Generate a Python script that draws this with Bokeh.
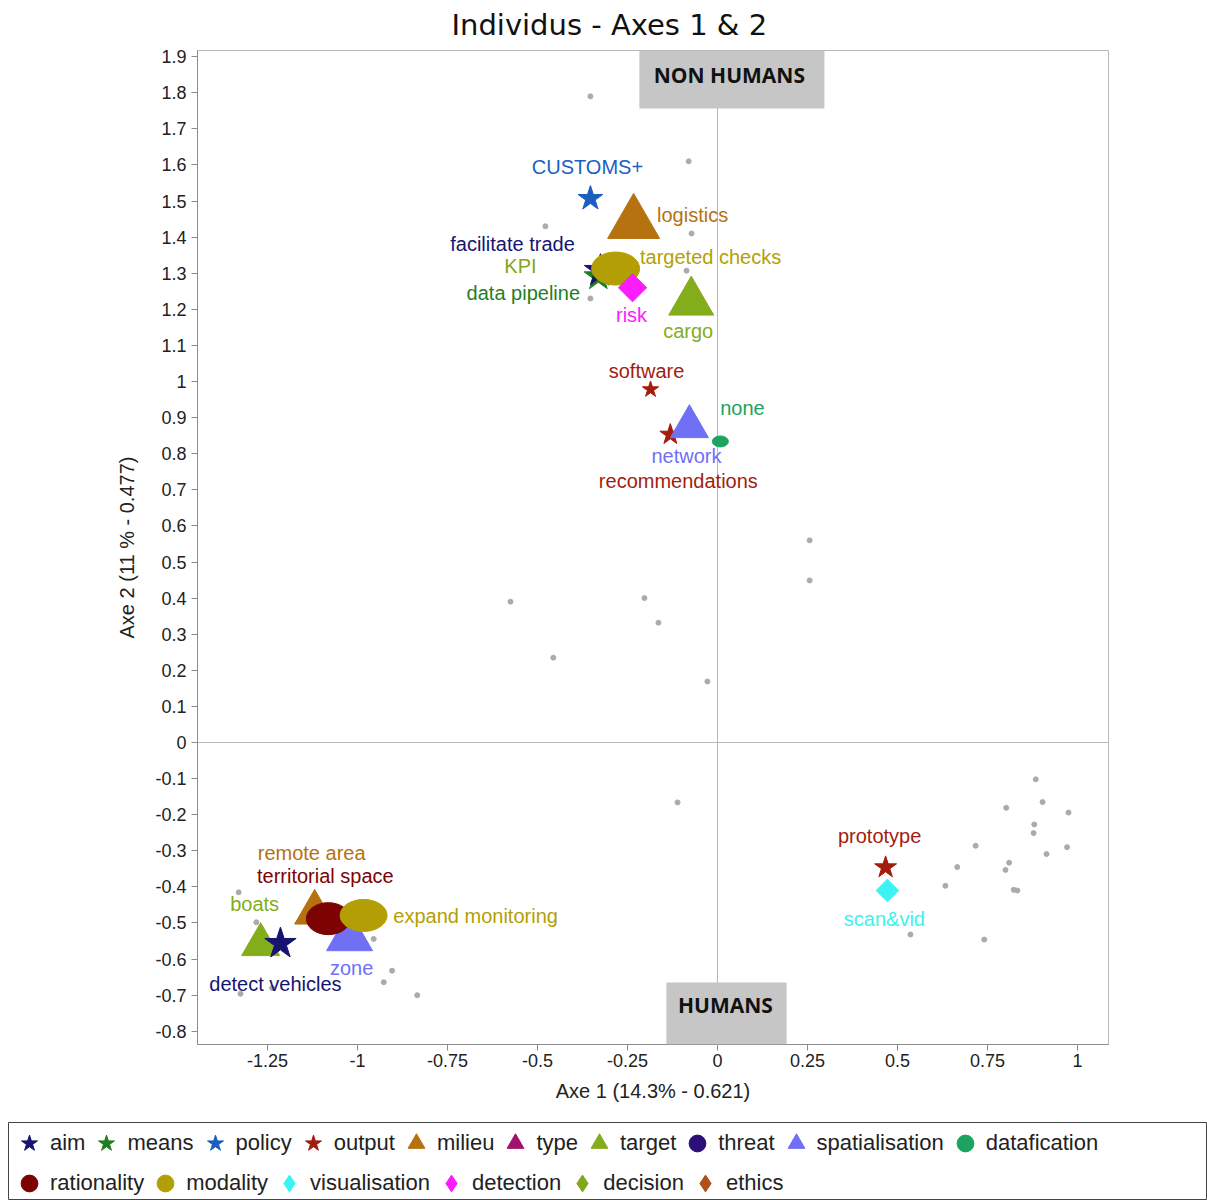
import numpy as np
from bokeh.plotting import figure
from bokeh.models import (ColumnDataSource, Range1d, FixedTicker, Span, BoxAnnotation,
                          Label, Legend, LegendItem)
from bokeh.core.properties import value
from bokeh.embed import file_html
from bokeh.resources import INLINE

# ---------------- data ----------------
categories = ["aim", "means", "policy", "output", "milieu", "type", "target", "threat",
              "spatialisation", "datafication", "rationality", "modality",
              "visualisation", "detection", "decision", "ethics"]
category_colors = ["#161470", "#1f7f1f", "#1a5fc0", "#a31d0d", "#b5720f", "#a1126f",
                   "#84ad1c", "#2c0f77", "#7070f4", "#1ba35f", "#7d0202", "#b39f05",
                   "#3cf2f2", "#fc1cfc", "#80a81e", "#b24f16"]
category_shapes = ["star", "star", "star", "star", "triangle", "triangle", "triangle",
                   "ellipse", "triangle", "ellipse", "ellipse", "ellipse",
                   "diamond", "diamond", "diamond", "diamond"]

# individuals (grey dots)
ind_x = [-0.353, -0.080, -0.478, -0.072, -0.086, -0.353, 0.256, 0.256, -0.575, -0.203,
         -0.164, -0.456, -0.028, -0.111,
         0.884, 0.903, 0.802, 0.975, 0.880, 0.878, 0.717, 0.971, 0.914, 0.810, 0.800,
         0.666, 0.633, 0.833, 0.823, 0.536, 0.741,
         -1.330, -1.281, -0.955, -0.904, -0.927, -0.834, -1.325, -1.237]
ind_y = [1.790, 1.610, 1.430, 1.410, 1.307, 1.230, 0.560, 0.449, 0.390, 0.400,
         0.332, 0.235, 0.169, -0.166,
         -0.102, -0.165, -0.181, -0.194, -0.227, -0.251, -0.286, -0.290, -0.309, -0.333,
         -0.353, -0.345, -0.397, -0.410, -0.408, -0.532, -0.546,
         -0.415, -0.498, -0.544, -0.632, -0.664, -0.700, -0.696, -0.680]

# variables (modalities), in drawing order
var_labels = ["data pipeline", "facilitate trade", "KPI", "targeted checks", "risk",
              "CUSTOMS+", "logistics", "cargo",
              "recommendations", "network", "software", "none",
              "remote area", "zone", "territorial space", "expand monitoring",
              "boats", "detect vehicles", "prototype", "scan&vid"]
var_category = ["means", "aim", "decision", "modality", "detection",
                "policy", "milieu", "target",
                "output", "spatialisation", "output", "datafication",
                "milieu", "spatialisation", "rationality", "modality",
                "target", "aim", "output", "visualisation"]
var_x = [-0.331, -0.325, -0.303, -0.283, -0.236, -0.353, -0.233, -0.073,
         -0.131, -0.078, -0.186, 0.008,
         -1.119, -1.022, -1.081, -0.983, -1.269, -1.214, 0.467, 0.472]
var_y = [1.291, 1.307, 1.302, 1.313, 1.260, 1.507, 1.438, 1.220,
         0.853, 0.875, 0.978, 0.834,
         -0.471, -0.540, -0.488, -0.479, -0.560, -0.557, -0.346, -0.410]

x_ticks = [-1.25, -1.0, -0.75, -0.5, -0.25, 0.0, 0.25, 0.5, 0.75, 1.0]
x_tick_labels = ["-1.25", "-1", "-0.75", "-0.5", "-0.25", "0", "0.25", "0.5", "0.75", "1"]
y_ticks = [-0.8, -0.7, -0.6, -0.5, -0.4, -0.3, -0.2, -0.1, 0.0, 0.1, 0.2, 0.3, 0.4, 0.5,
           0.6, 0.7, 0.8, 0.9, 1.0, 1.1, 1.2, 1.3, 1.4, 1.5, 1.6, 1.7, 1.8, 1.9]
y_tick_labels = ["-0.8", "-0.7", "-0.6", "-0.5", "-0.4", "-0.3", "-0.2", "-0.1", "0",
                 "0.1", "0.2", "0.3", "0.4", "0.5", "0.6", "0.7", "0.8", "0.9", "1",
                 "1.1", "1.2", "1.3", "1.4", "1.5", "1.6", "1.7", "1.8", "1.9"]

# ---------------- styles (sizes / label offsets in px) ----------------
marker_size = {"data pipeline": 30, "facilitate trade": 34, "KPI": 18, "risk": 20,
               "CUSTOMS+": 26, "logistics": 52, "cargo": 45, "recommendations": 22,
               "network": 38, "software": 17, "remote area": 40, "zone": 46,
               "boats": 38, "detect vehicles": 33, "prototype": 23, "scan&vid": 16}
ellipse_size = {"targeted checks": (48, 33), "none": (16, 11),
                "territorial space": (44, 32), "expand monitoring": (47, 32)}
label_offset = {"data pipeline": (-75, 17), "facilitate trade": (-88, -27), "KPI": (-88, -7),
                "targeted checks": (95, -12), "risk": (-1, 27), "CUSTOMS+": (-3, -32),
                "logistics": (59, -8), "cargo": (-3, 29), "recommendations": (8, 46),
                "network": (-3, 29), "software": (-4, -18), "none": (22, -33),
                "remote area": (-3, -60), "zone": (2, 31), "territorial space": (-3, -43),
                "expand monitoring": (112, 1), "boats": (-6, -41),
                "detect vehicles": (-5, 40), "prototype": (-6, -31), "scan&vid": (-3, 28)}

color_of = dict(zip(categories, category_colors))
shape_of = dict(zip(categories, category_shapes))
LABEL_FONT = "Liberation Sans"

# ---------------- main figure ----------------
p = figure(frame_width=911, frame_height=994,
           min_border_left=197, min_border_right=99, min_border_top=50, min_border_bottom=76,
           x_range=Range1d(-1.4444, 1.0861), y_range=Range1d(-0.8366, 1.917),
           toolbar_location=None, output_backend="svg")
p.title.text = "Individus - Axes 1 & 2"
p.title.text_font = "DejaVu Sans"
p.title.text_font_size = "29px"
p.title.text_font_style = "normal"
p.title.text_color = "#111111"
p.title.align = "left"
p.title.offset = 254
p.title.vertical_align = "top"
p.title.standoff = 13

p.grid.visible = False
p.outline_line_color = "#b8b8b8"
p.background_fill_color = "white"
p.border_fill_color = "white"

for ax in (p.xaxis[0], p.yaxis[0]):
    ax.axis_line_color = "#8c8c8c"
    ax.major_tick_line_color = "#8c8c8c"
    ax.major_tick_out = 6
    ax.major_tick_in = 0
    ax.minor_tick_line_color = None
    ax.major_label_text_font = LABEL_FONT
    ax.major_label_text_font_size = "18px"
    ax.major_label_text_color = "#222222"
    ax.axis_label_text_font = LABEL_FONT
    ax.axis_label_text_font_size = "20px"
    ax.axis_label_text_font_style = "normal"
    ax.axis_label_text_color = "#222222"

p.xaxis.ticker = FixedTicker(ticks=x_ticks)
p.xaxis.major_label_overrides = dict(zip(x_ticks, x_tick_labels))
p.yaxis.ticker = FixedTicker(ticks=y_ticks)
p.yaxis.major_label_overrides = dict(zip(y_ticks, y_tick_labels))
p.xaxis.axis_label = "Axe 1 (14.3% - 0.621)"
p.yaxis.axis_label = "Axe 2 (11 % - 0.477)"
p.xaxis.major_label_standoff = 3
p.xaxis.axis_label_standoff = 10
p.yaxis.major_label_standoff = 5
p.yaxis.axis_label_standoff = 14

# zero lines
p.add_layout(Span(location=0, dimension="width", line_color="#b8b8b8", line_width=1,
                  level="underlay"))
p.add_layout(Span(location=0, dimension="height", line_color="#b8b8b8", line_width=1,
                  level="underlay"))

# grey boxes
nh_box = dict(left=-0.217, right=0.297, bottom=1.756)
h_box = dict(left=-0.142, right=0.192, top=-0.665)
p.add_layout(BoxAnnotation(left=nh_box["left"], right=nh_box["right"], bottom=nh_box["bottom"],
                           fill_color="#c6c6c6", fill_alpha=1.0, line_color=None))
p.add_layout(BoxAnnotation(left=h_box["left"], right=h_box["right"], top=h_box["top"],
                           fill_color="#c6c6c6", fill_alpha=1.0, line_color=None))
p.add_layout(Label(x=0.033, y=1.849, text="NON HUMANS", text_align="center",
                   text_baseline="middle", text_font="Open Sans", text_font_style="bold",
                   text_font_size="21px", text_color="#111111"))
p.add_layout(Label(x=0.022, y=-0.728, text="HUMANS", text_align="center",
                   text_baseline="middle", text_font="Open Sans", text_font_style="bold",
                   text_font_size="21px", text_color="#111111"))

# individuals
p.scatter(ind_x, ind_y, marker="circle", size=5, fill_color="#ababab", line_color="#ababab")

# variable markers
for i, lab in enumerate(var_labels):
    cat = var_category[i]
    col = color_of[cat]
    shape = shape_of[cat]
    src = ColumnDataSource(dict(x=[var_x[i]], y=[var_y[i]]))
    if shape == "ellipse":
        w, h = ellipse_size[lab]
        p.ellipse("x", "y", width=w, height=h, width_units="screen", height_units="screen",
                  source=src, fill_color=col, line_color=col)
    elif shape == "diamond":
        p.scatter("x", "y", marker="square", angle=np.pi / 4, size=marker_size[lab],
                  source=src, fill_color=col, line_color=col)
    else:
        p.scatter("x", "y", marker=shape, size=marker_size[lab], source=src,
                  fill_color=col, line_color=col)

# variable labels
lab_src = ColumnDataSource(dict(
    x=var_x, y=var_y, text=var_labels,
    dx=[label_offset[l][0] for l in var_labels],
    dy=[label_offset[l][1] for l in var_labels],
    color=[color_of[c] for c in var_category]))
p.text("x", "y", text="text", x_offset="dx", y_offset="dy", text_color="color",
       text_align="center", text_baseline="middle", text_font=value(LABEL_FONT),
       text_font_size="20px", source=lab_src)

# ---------------- legend strip (separate root below the plot) ----------------
lf = figure(width=1207, height=80, x_range=Range1d(0, 1), y_range=Range1d(0, 1),
            toolbar_location=None, output_backend="svg", x_axis_type=None, y_axis_type=None,
            min_border_left=8, min_border_top=2, min_border_right=0, min_border_bottom=0)
lf.grid.visible = False
lf.outline_line_color = "#444444"
lf.outline_line_width = 1
lf.background_fill_color = "white"
lf.border_fill_color = "white"

legend_marker = {"star": "star", "triangle": "triangle", "ellipse": "circle", "diamond": "diamond"}
items = []
for cat in categories:
    col = color_of[cat]
    r = lf.scatter([np.nan], [np.nan], marker=legend_marker[shape_of[cat]], size=20,
                   fill_color=col, line_color=col)
    items.append(LegendItem(label=cat, renderers=[r]))

common = dict(orientation="horizontal", glyph_width=42, glyph_height=50,
              label_standoff=0, spacing=0, padding=0, margin=0,
              border_line_alpha=0, background_fill_alpha=0,
              label_text_font=LABEL_FONT, label_text_font_size="22px",
              label_text_color="#222222")
leg1 = Legend(items=items[:10], location=(0, 32), **common)
leg2 = Legend(items=items[10:], location=(0, -8), **common)
lf.add_layout(leg1, "center")
lf.add_layout(leg2, "center")

open("out.html", "w").write(file_html([p, lf], INLINE))
